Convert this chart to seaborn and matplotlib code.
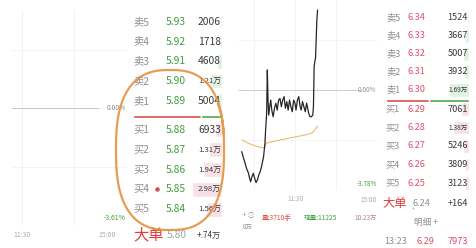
"""Two level-2 quote screenshots side by side: order book + intraday line."""

import matplotlib

matplotlib.use("Agg")
import matplotlib.pyplot as plt
import numpy as np
import seaborn as sns

W, H = 477, 248

# left quote (falling stock, green book)
LEFT_SELL_LABELS = ["卖5", "卖4", "卖3", "卖2", "卖1"]
LEFT_SELL_PRICES = [5.93, 5.92, 5.91, 5.90, 5.89]
LEFT_SELL_VOLS = [2006, 1718, 4608, 12100, 5004]
LEFT_BUY_LABELS = ["买1", "买2", "买3", "买4", "买5"]
LEFT_BUY_PRICES = [5.88, 5.87, 5.86, 5.85, 5.84]
LEFT_BUY_VOLS = [6933, 13100, 19400, 29800, 15600]
LEFT_BIG_PRICE = "5.80"
LEFT_BIG_VOL = "+.74万"
LEFT_LOW_PCT = -3.61

# right quote (red book)
RIGHT_SELL_LABELS = ["卖5", "卖4", "卖3", "卖2", "卖1"]
RIGHT_SELL_PRICES = [6.34, 6.33, 6.32, 6.31, 6.30]
RIGHT_SELL_VOLS = [1524, 3667, 5007, 3932, 16900]
RIGHT_BUY_LABELS = ["买1", "买2", "买3", "买4", "买5"]
RIGHT_BUY_PRICES = [6.29, 6.28, 6.27, 6.26, 6.25]
RIGHT_BUY_VOLS = [7061, 13800, 5246, 3809, 3123]
RIGHT_BIG_PRICE = "6.24"
RIGHT_BIG_VOL = "+164"
RIGHT_LAST_TRADE = ["13:23", "6.29", "7973"]
RIGHT_LOW_PCT = -3.78

# intraday price line of the right quote (trading minutes from 9:30, % change)
PRICE_MIN = [42, 44, 47, 49, 52, 53, 55, 57, 59, 61, 63, 65, 67, 69, 71, 74, 76, 77,
             78.5, 79.5, 80.5, 81.5, 83, 84.5, 86, 88, 90, 92, 94, 96, 98, 100, 102,
             104, 106, 108, 110, 112, 114, 116, 118, 120, 121.5, 123.5, 125.5, 127.5,
             129, 131, 133, 135, 137, 140, 142, 144, 146, 147, 148, 149, 150, 151, 152, 153]
PRICE_PCT = [-2.33, -2.52, -2.77, -2.96, -3.15, -3.28, -3.47, -3.28, -3.15, -3.34, -3.50,
             -3.40, -3.21, -3.09, -2.90, -2.52, -2.02, -1.51, -0.88, 0.76, -0.38, -0.95,
             -0.63, -0.38, -0.76, -1.01, -0.69, -0.50, -0.76, -0.38, -0.32, -0.63, -0.38,
             -0.25, -0.69, -0.44, -0.76, -0.38, -0.63, -0.82, -0.38, -0.50, -0.76, -0.38,
             -0.25, -0.63, -0.76, -0.44, -0.63, -0.82, -0.50, -0.88, -1.01, -1.01, -0.95,
             -0.63, 0.88, 1.07, 1.20, 1.89, 2.65, 3.02]
AVG_MIN = [42, 54, 66, 75, 78.5, 91, 113, 135, 145, 149, 153]
AVG_PCT = [-1.89, -2.04, -2.15, -2.19, -2.00, -1.93, -1.81, -1.70, -1.63, -1.51, -1.36]
VOL_MIN = [79.5, 149]
VOL_HANDS = [3710, 3450]

GRAY = "#8f8f8f"
GREEN = "#3d9f3d"
RED = "#e0506a"
DARK = "#3a3a3a"
ORANGE = "#e5913f"


def px_axes(fig, x0, y0, x1, y1):
    """Axes placed by pixel box (origin top-left)."""
    return fig.add_axes([x0 / W, 1 - y1 / H, (x1 - x0) / W, (y1 - y0) / H])


def fmt_vol(v):
    return f"{v / 10000:.2f}万" if v >= 10000 else str(v)


def draw_book(ax, sells, buys, x_lab, x_price, x_vol, y_sell, y_buy, step_s, step_b,
              price_color, vol_scale, fs):
    labels_s, prices_s, vols_s = sells
    labels_b, prices_b, vols_b = buys
    for i, (lab, p, v) in enumerate(zip(labels_s, prices_s, vols_s)):
        y = y_sell + i * step_s
        w = v / vol_scale
        ax.barh(y, w, left=x_vol + 1 - w, height=step_s * 0.75, color="#dff1df", zorder=1)
        ax.text(x_lab, y, lab, color=GRAY, fontsize=fs, va="center", ha="left")
        ax.text(x_price, y, f"{p:.2f}", color=price_color, fontsize=fs, va="center", ha="right")
        ax.text(x_vol, y, fmt_vol(v), color=DARK, fontsize=fs - (1.8 if v >= 10000 else 0),
                va="center", ha="right", zorder=3)
    for i, (lab, p, v) in enumerate(zip(labels_b, prices_b, vols_b)):
        y = y_buy + i * step_b
        w = v / vol_scale
        ax.barh(y, w, left=x_vol + 1 - w, height=step_b * 0.75, color="#f7e0e6", zorder=1)
        ax.text(x_lab, y, lab, color=GRAY, fontsize=fs, va="center", ha="left")
        ax.text(x_price, y, f"{p:.2f}", color=price_color, fontsize=fs, va="center", ha="right")
        ax.text(x_vol, y, fmt_vol(v), color=DARK, fontsize=fs - (1.8 if v >= 10000 else 0),
                va="center", ha="right", zorder=3)
    # buy / sell strength bar between the two halves
    total = sum(vols_b) + sum(vols_s)
    width = x_vol + 1 - x_lab
    buy_w = width * sum(vols_b) / total
    y_bar = (y_sell + 4 * step_s + y_buy) / 2 + 1
    ax.barh(y_bar, buy_w, left=x_lab, height=2.4, color="#d94848")
    ax.barh(y_bar, width - buy_w, left=x_lab + buy_w, height=2.4, color="#45a845")


def chart_axes(fig, box, x_px, m_px, y_px, p_px):
    """Axes whose minute / pct scale matches two reference pixels on each axis."""
    x0, y0, x1, y1 = box
    ax = px_axes(fig, x0, y0, x1, y1)
    (xa, xb), (ma, mb) = x_px, m_px
    mpp = (mb - ma) / (xb - xa)
    ax.set_xlim(ma + (x0 - xa) * mpp, ma + (x1 - xa) * mpp)
    (ya, yb), (pa, pb) = y_px, p_px
    ppp = (pb - pa) / (yb - ya)
    ax.set_ylim(pa + (y1 - ya) * ppp, pa + (y0 - ya) * ppp)
    ax.patch.set_alpha(0)
    ax.set_axis_off()
    return ax


def main():
    sns.set_theme(style="white")
    plt.rcParams["font.family"] = ["Noto Sans CJK SC", "DejaVu Sans"]
    fig = plt.figure(figsize=(W / 100, H / 100), dpi=100)
    fig.patch.set_facecolor("white")

    # ---- left intraday frame (no line visible, only grid) ----
    axl = chart_axes(fig, (12, 10, 127, 225), (22, 127), (120, 240), (108, 225), (0, LEFT_LOW_PCT))
    for m in (120, 180):
        axl.axvline(m, color="#efefef", lw=0.6)
    for p in (LEFT_LOW_PCT / 2, -LEFT_LOW_PCT / 2):
        axl.axhline(p, color="#f1f1f1", lw=0.6)
    axl.hlines(0, 100, 208, color="#bdbdbd", lw=0.6)

    # ---- right intraday chart ----
    axr = chart_axes(fig, (238, 0, 377, 190), (213, 377), (0, 240), (90, 190), (0, RIGHT_LOW_PCT))
    for m in (60, 120, 180):
        axr.axvline(m, color="#f1f1f1", lw=0.6)
    for p in (RIGHT_LOW_PCT / 2, -RIGHT_LOW_PCT / 2):
        axr.axhline(p, color="#f3f3f3", lw=0.6)
    axr.hlines(0, 36, 216, color="#c4c4c4", lw=0.6)
    sns.lineplot(x=AVG_MIN, y=AVG_PCT, ax=axr, color="#e9bd6c", lw=0.8, estimator=None)
    sns.lineplot(x=PRICE_MIN, y=PRICE_PCT, ax=axr, color="#262626", lw=0.9, estimator=None)

    axv = chart_axes(fig, (238, 222, 377, 248), (213, 377), (0, 240), (248, 222), (0, 3800))
    axv.bar(VOL_MIN, VOL_HANDS, width=1.6, color=["#d9505a", "#b2708e"])

    # ---- text layer ----
    ax = px_axes(fig, 0, 0, W, H)
    ax.set_xlim(0, W)
    ax.set_ylim(H, 0)
    ax.set_axis_off()

    draw_book(ax,
              (LEFT_SELL_LABELS, LEFT_SELL_PRICES, LEFT_SELL_VOLS),
              (LEFT_BUY_LABELS, LEFT_BUY_PRICES, LEFT_BUY_VOLS),
              133, 186, 221, 22, 130, 19.7, 19.8, GREEN, 1000, 7.4)
    ax.plot(157, 189.4, "o", ms=2.2, color="#d94848")
    ax.text(133, 235, "大单", color="#e23b3b", fontsize=11, va="center", ha="left")
    ax.text(187, 235, LEFT_BIG_PRICE, color="#9aa3ad", fontsize=7.4, va="center", ha="right")
    ax.text(221, 235, LEFT_BIG_VOL, color=DARK, fontsize=5.8, va="center", ha="right")
    ax.text(126, 108, "0.00%", color=GRAY, fontsize=4.8, va="center", ha="right")
    ax.text(126, 218, f"{LEFT_LOW_PCT:.2f}%", color=GREEN, fontsize=5, va="center", ha="right")
    ax.text(22, 235, "11:30", color="#aaaaaa", fontsize=5, va="center", ha="center")
    ax.text(116, 235, "15:00", color="#aaaaaa", fontsize=5, va="center", ha="right")

    draw_book(ax,
              (RIGHT_SELL_LABELS, RIGHT_SELL_PRICES, RIGHT_SELL_VOLS),
              (RIGHT_BUY_LABELS, RIGHT_BUY_PRICES, RIGHT_BUY_VOLS),
              386, 425, 468, 18, 109, 18.0, 18.5, RED, 850, 6.6)
    ax.text(382, 203, "大单", color="#e23b3b", fontsize=8.8, va="center", ha="left")
    ax.text(413, 209, "+", color=GRAY, fontsize=3.4, va="center", ha="center")
    ax.text(430, 203, RIGHT_BIG_PRICE, color=GRAY, fontsize=6.6, va="center", ha="right")
    ax.text(468, 203, RIGHT_BIG_VOL, color=DARK, fontsize=6.6, va="center", ha="right")
    ax.text(426, 222, "明细 +", color=GRAY, fontsize=6.2, va="center", ha="center")
    ax.text(384, 241, RIGHT_LAST_TRADE[0], color=GRAY, fontsize=6.6, va="center", ha="left")
    ax.text(434, 241, RIGHT_LAST_TRADE[1], color=RED, fontsize=6.6, va="center", ha="right")
    ax.text(468, 241, RIGHT_LAST_TRADE[2], color=RED, fontsize=6.6, va="center", ha="right")
    ax.text(376, 90, "0.00%", color=GRAY, fontsize=4.6, va="center", ha="right")
    ax.text(377, 184, f"{RIGHT_LOW_PCT:.2f}%", color=GREEN, fontsize=4.6, va="center", ha="right")
    ax.text(295, 199, "11:30", color="#aaaaaa", fontsize=4.6, va="center", ha="center")
    ax.text(377, 200, "15:00", color="#aaaaaa", fontsize=4.6, va="center", ha="right")
    ax.text(243, 215, "+ ⓘ", color=GRAY, fontsize=4.6, va="center", ha="left")
    ax.text(243, 227, "8万", color=GRAY, fontsize=4.6, va="center", ha="left")
    ax.text(262, 218, f"量:{VOL_HANDS[0]}手", color="#e04848", fontsize=4.8, va="center", ha="left")
    ax.text(304, 218, "现量:11225", color=GREEN, fontsize=4.8, va="center", ha="left")
    ax.text(377, 218, "10.23万", color="#b08090", fontsize=4.6, va="center", ha="right")

    # hand-drawn orange loop around the bid side
    t = np.linspace(0.12, 2 * np.pi + 0.55, 240)
    n = 2.6
    ex = 170 + 54 * np.sign(np.cos(t)) * np.abs(np.cos(t)) ** (2 / n)
    ey = 150 - 80 * np.sign(np.sin(t)) * np.abs(np.sin(t)) ** (2 / n)
    ey = ey + 4 * (t > 2 * np.pi) * (t - 2 * np.pi)
    ax.plot(ex, ey, color=ORANGE, lw=1.6, alpha=0.9, solid_capstyle="round", zorder=5)

    fig.savefig("out.png", dpi=100, facecolor="white")
    plt.close(fig)


if __name__ == "__main__":
    main()
